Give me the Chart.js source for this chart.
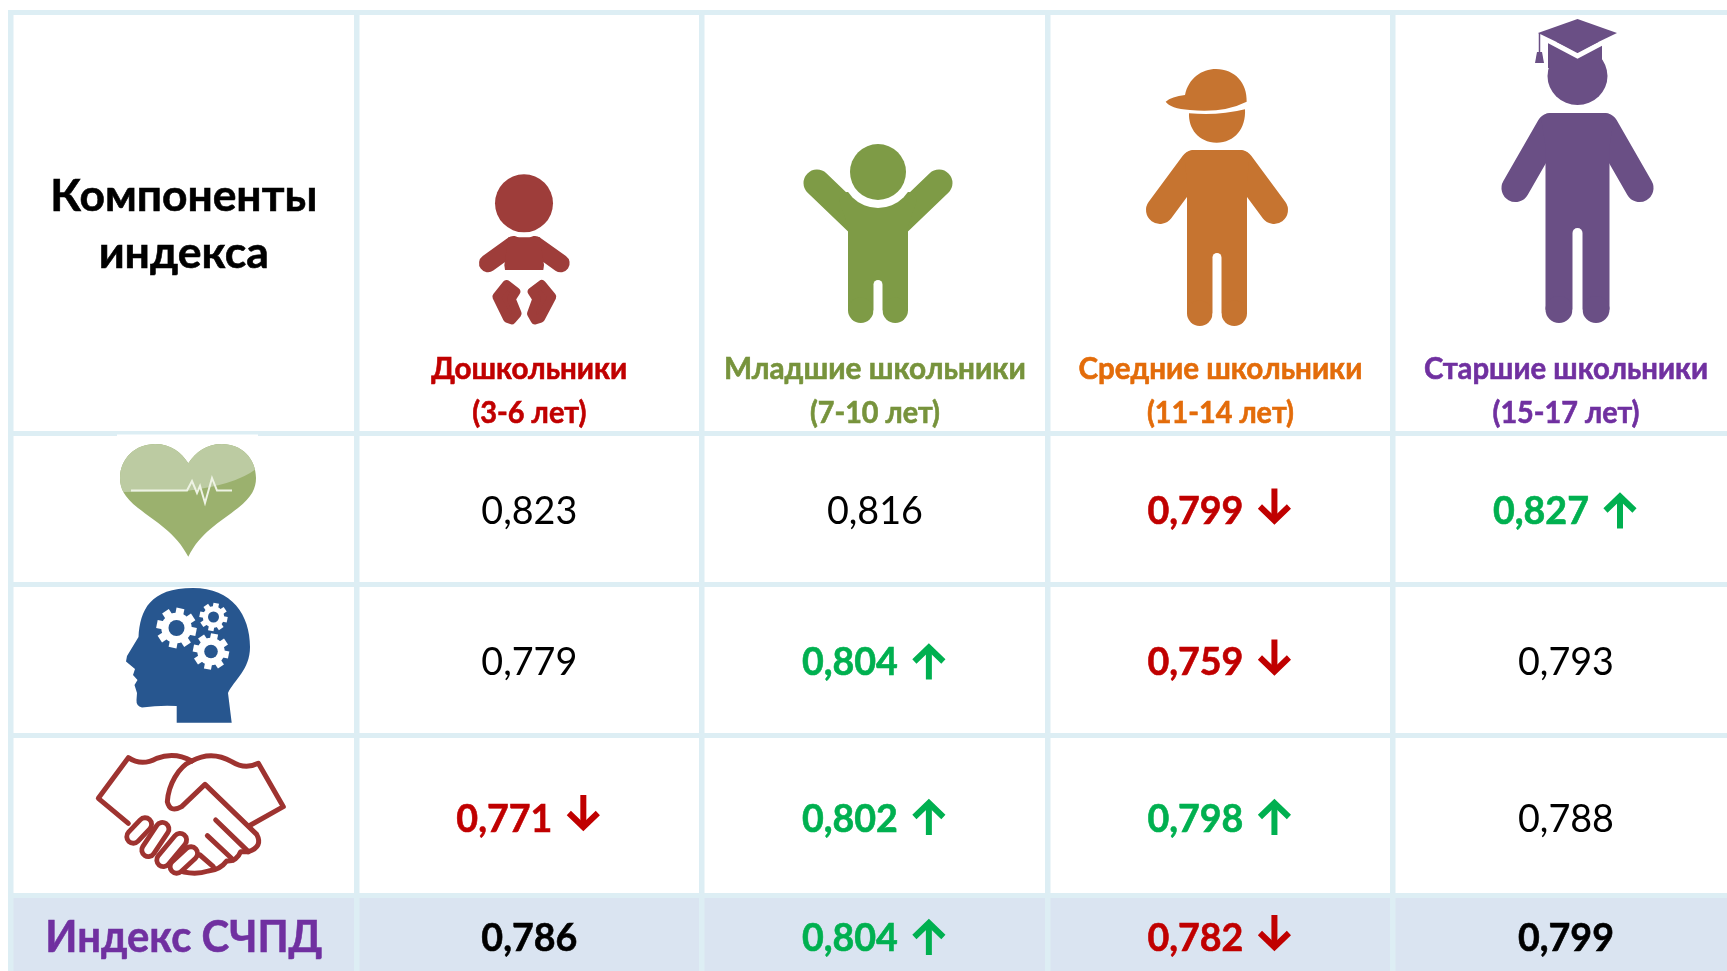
<!DOCTYPE html>
<html lang="ru">
<head>
<meta charset="utf-8">
<title>Индекс СЧПД</title>
<script src="https://cdn.jsdelivr.net/npm/chart.js@4"></script>
<style>
    html, body { margin: 0; padding: 0; background: #fff; overflow: hidden; }
    canvas { display: block; }
</style>
</head>
<body>
<canvas id="indexChart" width="1727" height="971"></canvas>
<script>
// Table content
const headerTitle = ['Компоненты', 'индекса'];
const groupNames = ['Дошкольники', 'Младшие школьники', 'Средние школьники', 'Старшие школьники'];
const groupAges = ['(3-6 лет)', '(7-10 лет)', '(11-14 лет)', '(15-17 лет)'];
const indexLabel = 'Индекс СЧПД';

const physicalValues = [0.823, 0.816, 0.799, 0.827];
const mentalValues = [0.779, 0.804, 0.759, 0.793];
const socialValues = [0.771, 0.802, 0.798, 0.788];
const indexValues = [0.786, 0.804, 0.782, 0.799];

// 1 = up arrow, -1 = down arrow, 0 = no change
const physicalTrend = [0, 0, -1, 1];
const mentalTrend = [0, 1, -1, 0];
const socialTrend = [-1, 1, 1, 0];
const indexTrend = [0, 1, -1, 0];

// Layout
const rowEdges = [12.5, 433, 584, 735, 895, 975];
const textNudge = [0, 3.3, 3.3, 4.5, 4];
const LINE_COLOR = '#DDEEF4';
const BAND_COLOR = '#DAE4F1';
const RED = '#C00000';
const GREEN = '#00B050';
const groupColors = ['#C00000', '#77933C', '#E36C0A', '#7030A0'];
const FONT = 'Lato, "Noto Sans", sans-serif';

// y axis with rows of different heights, value = row number
class TableRowScale extends Chart.LinearScale {
    static id = 'tableRows';
    static defaults = Chart.LinearScale.defaults;

    getPixelForValue(value) {
        const pos = value + 0.5;
        const k = Math.max(0, Math.min(rowEdges.length - 2, Math.floor(pos)));
        return rowEdges[k] + (pos - k) * (rowEdges[k + 1] - rowEdges[k]);
    }
}
Chart.register(TableRowScale);

function rowDataset(label, row, values, trend) {
    return {
        label,
        row,
        values,
        trend,
        bold: row === 4,
        data: values.map((v, i) => ({ x: i + 1, y: row })),
        pointRadius: 0
    };
}

function putText(ctx, text, x, y, size, color, bold, maxWidth) {
    ctx.font = `${bold ? 'bold ' : ''}${size}px ${FONT}`;
    ctx.fillStyle = color;
    ctx.textAlign = 'center';
    ctx.textBaseline = 'middle';
    ctx.fillText(text, x, y, maxWidth);
    if (bold) {
        // Lato bold is a bit lighter than the original face
        ctx.strokeStyle = color;
        ctx.lineWidth = 0.6;
        ctx.strokeText(text, x, y, maxWidth);
    }
}

function linePath(ctx, pts) {
    ctx.beginPath();
    pts.forEach((q, i) => (i ? ctx.lineTo(q[0], q[1]) : ctx.moveTo(q[0], q[1])));
}

function drawArrow(ctx, x, y, dir, color) {
    ctx.save();
    ctx.translate(x, y);
    ctx.scale(1, -dir);
    ctx.strokeStyle = color;
    ctx.lineWidth = 6;
    ctx.lineJoin = 'miter';
    linePath(ctx, [[0, -20], [0, 10]]);
    ctx.stroke();
    linePath(ctx, [[-14.5, -2], [0, 12], [14.5, -2]]);
    ctx.stroke();
    ctx.restore();
}

function drawPerson(ctx, p) {
    ctx.fillStyle = p.color;
    ctx.strokeStyle = p.color;
    ctx.lineCap = 'round';
    // arms
    if (p.arm) {
        ctx.lineWidth = p.arm;
        [-1, 1].forEach(s => {
            linePath(ctx, [
                [p.cx + s * (p.shoulder - p.arm / 2), p.top + p.arm / 2],
                [p.cx + s * (p.hand - p.arm / 2), p.handBottom - p.arm / 2]
            ]);
            ctx.stroke();
        });
    }
    // torso with rounded shoulders
    const legW = p.torso - p.gap;
    const sh = p.shoulder - 4;
    ctx.beginPath();
    ctx.moveTo(p.cx, p.top);
    ctx.arcTo(p.cx + sh, p.top, p.cx + p.torso, p.top + 34, 8);
    ctx.lineTo(p.cx + p.torso, p.top + 34);
    ctx.lineTo(p.cx + p.torso, p.bottom - legW / 2);
    ctx.lineTo(p.cx - p.torso, p.bottom - legW / 2);
    ctx.lineTo(p.cx - p.torso, p.top + 34);
    ctx.arcTo(p.cx - sh, p.top, p.cx, p.top, 8);
    ctx.closePath();
    ctx.fill();
    // feet and the gap between the legs
    [-1, 1].forEach(s => {
        ctx.beginPath();
        ctx.arc(p.cx + s * (p.torso + p.gap) / 2, p.bottom - legW / 2, legW / 2, 0, Math.PI * 2);
        ctx.fill();
    });
    ctx.strokeStyle = '#fff';
    ctx.lineWidth = p.gap * 2;
    linePath(ctx, [[p.cx, p.gapTop + p.gap], [p.cx, p.bottom + 4]]);
    ctx.stroke();
    ctx.lineCap = 'butt';
}

function drawBaby(ctx) {
    const c = '#9E3D3A';
    ctx.save();
    ctx.translate(470, 165);
    ctx.scale(1 / 3, 1 / 3);
    ctx.fillStyle = c;
    ctx.strokeStyle = c;
    ctx.beginPath();
    ctx.arc(162, 115, 87, 0, Math.PI * 2);
    ctx.fill();
    ctx.lineCap = 'round';
    ctx.lineWidth = 54;
    [[[130, 240], [54, 295]], [[195, 240], [272, 295]]].forEach(a => {
        linePath(ctx, a);
        ctx.stroke();
    });
    ctx.lineCap = 'butt';
    linePath(ctx, [[115, 217], [210, 217], [222, 300], [220, 315], [105, 315], [103, 300]]);
    ctx.closePath();
    ctx.fill();
    // feet
    ctx.lineJoin = 'round';
    ctx.lineWidth = 26;
    [[[110, 358], [138, 380], [124, 402], [142, 446], [125, 465], [112, 460], [80, 395]],
     [[215, 358], [186, 380], [200, 402], [184, 446], [195, 465], [212, 460], [246, 395]]].forEach(f => {
        linePath(ctx, f);
        ctx.closePath();
        ctx.fill();
        ctx.stroke();
    });
    ctx.restore();
}

function drawChild(ctx) {
    const c = '#7E9B46';
    ctx.strokeStyle = c;
    ctx.lineCap = 'round';
    ctx.lineWidth = 27;
    [[[817, 183], [866, 230]], [[939, 183], [890, 230]]].forEach(a => {
        linePath(ctx, a);
        ctx.stroke();
    });
    drawPerson(ctx, { cx: 878, top: 192, shoulder: 46, torso: 30, bottom: 323, gap: 4.5, gapTop: 280, color: c });
    ctx.fillStyle = '#fff';
    ctx.beginPath();
    ctx.arc(878, 172, 36, 0, Math.PI * 2);
    ctx.fill();
    ctx.fillStyle = c;
    ctx.beginPath();
    ctx.arc(878, 172, 28, 0, Math.PI * 2);
    ctx.fill();
}

function drawTeen(ctx) {
    const c = '#C67430';
    drawPerson(ctx, { cx: 1217, top: 150, shoulder: 37, torso: 30, hand: 71, arm: 28, handBottom: 224, bottom: 326, gap: 4.5, gapTop: 253, color: c });
    ctx.save();
    ctx.translate(1140, 60);
    ctx.scale(1 / 3, 1 / 3);
    ctx.fillStyle = c;
    // face under the cap
    ctx.beginPath();
    ctx.moveTo(147, 160);
    ctx.quadraticCurveTo(235, 168, 315, 148);
    ctx.bezierCurveTo(318, 205, 285, 248, 230, 248);
    ctx.bezierCurveTo(175, 248, 145, 205, 147, 160);
    ctx.fill();
    // cap with visor
    ctx.beginPath();
    ctx.moveTo(77, 125);
    ctx.quadraticCurveTo(95, 110, 135, 105);
    ctx.bezierCurveTo(145, 55, 185, 27, 228, 27);
    ctx.bezierCurveTo(285, 27, 322, 70, 320, 125);
    ctx.quadraticCurveTo(250, 160, 150, 150);
    ctx.quadraticCurveTo(90, 145, 77, 125);
    ctx.fill();
    ctx.restore();
}

function drawSenior(ctx) {
    const c = '#6A4F85';
    drawPerson(ctx, { cx: 1577.5, top: 113, shoulder: 41, torso: 32, hand: 76, arm: 28, handBottom: 202, bottom: 323, gap: 5, gapTop: 228, color: c });
    ctx.fillStyle = c;
    ctx.beginPath();
    ctx.ellipse(1577.5, 76, 30, 29, 0, 0, Math.PI * 2);
    ctx.fill();
    ctx.fillRect(1548, 42, 54, 26);
    // white edge of the mortarboard
    ctx.strokeStyle = '#fff';
    ctx.lineWidth = 5;
    linePath(ctx, [[1538, 35], [1577.5, 56], [1617, 35]]);
    ctx.stroke();
    linePath(ctx, [[1577.5, 19], [1617, 33], [1577.5, 52], [1538, 33]]);
    ctx.closePath();
    ctx.fill();
    // tassel
    ctx.strokeStyle = c;
    ctx.lineWidth = 1.5;
    linePath(ctx, [[1539.5, 33], [1539.5, 54]]);
    ctx.stroke();
    linePath(ctx, [[1537, 52], [1542, 52], [1544, 63], [1535, 63]]);
    ctx.closePath();
    ctx.fill();
}

function drawHeart(ctx) {
    // white edge of the pasted picture over the grid line
    ctx.fillStyle = '#fff';
    ctx.fillRect(117, 434.5, 141, 3);
    const heart = new Path2D();
    heart.moveTo(188.3, 556.7);
    heart.bezierCurveTo(176, 533, 156, 522, 138, 508);
    heart.bezierCurveTo(124, 497, 120, 488, 120, 478);
    heart.bezierCurveTo(120, 458, 136, 444, 155, 444);
    heart.bezierCurveTo(171, 444, 181, 452, 188.3, 463.3);
    heart.bezierCurveTo(196, 452, 206, 444, 222, 444);
    heart.bezierCurveTo(241, 444, 256, 458, 256, 478);
    heart.bezierCurveTo(256, 488, 252, 497, 238, 508);
    heart.bezierCurveTo(220, 522, 200, 533, 188.3, 556.7);
    heart.closePath();
    ctx.fillStyle = '#9BB16E';
    ctx.fill(heart);
    ctx.save();
    ctx.clip(heart);
    ctx.fillStyle = '#BCCBA2';
    ctx.beginPath();
    ctx.moveTo(110, 490);
    ctx.lineTo(122, 492);
    ctx.lineTo(186, 491);
    ctx.quadraticCurveTo(235, 485, 256, 469);
    ctx.lineTo(262, 436);
    ctx.lineTo(110, 436);
    ctx.closePath();
    ctx.fill();
    ctx.restore();
    ctx.strokeStyle = '#EEF3E4';
    ctx.lineWidth = 2;
    linePath(ctx, [[131, 490.5], [187, 490.5], [192, 481], [197, 493], [200, 486], [205, 503], [212, 478], [217, 490.5], [232, 490.5]]);
    ctx.stroke();
}

function drawGear(ctx, x, y, r, hole, blue) {
    ctx.fillStyle = '#fff';
    ctx.beginPath();
    ctx.arc(x, y, r * 0.76, 0, Math.PI * 2);
    ctx.fill();
    for (let i = 0; i < 8; i++) {
        ctx.save();
        ctx.translate(x, y);
        ctx.rotate(i * Math.PI / 4 + 0.2);
        ctx.fillRect(-r * 0.2, -r, r * 0.4, r * 0.5);
        ctx.restore();
    }
    ctx.fillStyle = blue;
    ctx.beginPath();
    ctx.arc(x, y, hole, 0, Math.PI * 2);
    ctx.fill();
}

function drawBrain(ctx) {
    const blue = '#27568F';
    ctx.fillStyle = blue;
    ctx.beginPath();
    ctx.moveTo(176.7, 722.7);
    ctx.lineTo(176.7, 706);
    ctx.quadraticCurveTo(160, 705, 142, 707.5);
    ctx.quadraticCurveTo(136, 706, 136.5, 700);
    ctx.lineTo(137, 693);
    ctx.lineTo(134.5, 685);
    ctx.lineTo(137.5, 680);
    ctx.lineTo(133, 675);
    ctx.lineTo(135, 669);
    ctx.lineTo(126, 661.5);
    ctx.lineTo(127, 656);
    ctx.lineTo(138.5, 637);
    ctx.bezierCurveTo(140, 610, 150, 588, 193, 588);
    ctx.bezierCurveTo(232, 588, 250, 615, 250, 647);
    ctx.bezierCurveTo(250, 670, 234, 680, 228, 693);
    ctx.lineTo(231.7, 722.7);
    ctx.closePath();
    ctx.fill();
    drawGear(ctx, 176.5, 628, 20, 8, blue);
    drawGear(ctx, 213.5, 617, 14, 5.5, blue);
    drawGear(ctx, 211, 651.5, 18, 6.8, blue);
}

function drawHands(ctx) {
    const c = '#9E3330';
    ctx.save();
    ctx.translate(85, 745);
    ctx.scale(1 / 3, 1 / 3);
    ctx.strokeStyle = c;
    ctx.lineWidth = 15;
    ctx.lineJoin = 'round';
    ctx.lineCap = 'round';
    // left cuff and top of the left hand
    ctx.beginPath();
    ctx.moveTo(130, 235);
    ctx.lineTo(40, 160);
    ctx.lineTo(130, 38);
    ctx.quadraticCurveTo(170, 65, 215, 40);
    ctx.quadraticCurveTo(270, 20, 320, 48);
    ctx.stroke();
    // right cuff
    ctx.beginPath();
    ctx.moveTo(320, 48);
    ctx.quadraticCurveTo(380, 15, 440, 50);
    ctx.quadraticCurveTo(480, 75, 520, 55);
    ctx.lineTo(595, 185);
    ctx.lineTo(497, 240);
    ctx.stroke();
    // thumb and right hand
    ctx.beginPath();
    ctx.moveTo(320, 48);
    ctx.bezierCurveTo(280, 65, 250, 120, 247, 170);
    ctx.quadraticCurveTo(255, 205, 290, 185);
    ctx.lineTo(360, 118);
    ctx.lineTo(515, 268);
    ctx.quadraticCurveTo(535, 305, 490, 320);
    ctx.lineTo(467, 320);
    ctx.quadraticCurveTo(455, 350, 425, 348);
    ctx.quadraticCurveTo(405, 375, 370, 378);
    ctx.quadraticCurveTo(320, 395, 265, 370);
    ctx.stroke();
    // fingers of the right hand
    [[[392, 225], [490, 320]], [[367, 272], [445, 345]], [[345, 330], [385, 365]]].forEach(f => {
        linePath(ctx, f);
        ctx.stroke();
    });
    // fingers of the left hand
    [[[180, 238], [145, 275]], [[232, 252], [190, 315]], [[285, 285], [235, 345]], [[318, 325], [275, 365]]].forEach(f => {
        linePath(ctx, f);
        ctx.strokeStyle = c;
        ctx.lineWidth = 54;
        ctx.stroke();
        ctx.strokeStyle = '#fff';
        ctx.lineWidth = 25;
        ctx.stroke();
    });
    ctx.restore();
}

// fills the bottom row under the grid lines
const bandPlugin = {
    id: 'band',
    beforeDraw(chart) {
        const { ctx, chartArea, scales } = chart;
        const top = scales.y.getPixelForValue(3.5);
        ctx.fillStyle = BAND_COLOR;
        ctx.fillRect(chartArea.left, top, chartArea.right - chartArea.left, chartArea.bottom - top);
    }
};

// texts and pictures of the table, placed from the chart's scales
const tablePlugin = {
    id: 'table',
    afterDatasetsDraw(chart) {
        const { ctx, scales } = chart;
        const headerBottom = scales.y.getPixelForValue(0.5);
        const firstX = scales.x.getPixelForValue(0);

        putText(ctx, headerTitle[0], firstX, 197, 44.5, '#000', true, 267);
        putText(ctx, headerTitle[1], firstX, 254, 44.5, '#000', true, 172);
        groupNames.forEach((name, i) => {
            const x = scales.x.getPixelForValue(i + 1);
            putText(ctx, name, x, headerBottom - 63.2, 30, groupColors[i], true, [196, 302, 284, 284][i]);
            putText(ctx, groupAges[i], x, headerBottom - 19.2, 30, groupColors[i], true, [114, 130, 147, 147][i]);
        });
        putText(ctx, indexLabel, firstX, scales.y.getPixelForValue(4) + 3, 44.5, '#7030A0', true, 277);

        chart.data.datasets.forEach((ds, d) => {
            chart.getDatasetMeta(d).data.forEach((pt, i) => {
                const text = ds.values[i].toFixed(3).replace('.', ',');
                const trend = ds.trend[i];
                const textY = pt.y + textNudge[ds.row];
                if (trend === 0) {
                    putText(ctx, text, pt.x, textY, 38, '#000', ds.bold, 96);
                    return;
                }
                const color = trend > 0 ? GREEN : RED;
                putText(ctx, text, pt.x - 25, textY, 38, color, true, 96);
                drawArrow(ctx, pt.x + 54, pt.y, trend, color);
            });
        });

        drawBaby(ctx);
        drawChild(ctx);
        drawTeen(ctx);
        drawSenior(ctx);
        drawHeart(ctx);
        drawBrain(ctx);
        drawHands(ctx);
    }
};

const edgeTicks = values => axis => {
    axis.ticks = values.map(value => ({ value }));
};

new Chart(document.getElementById('indexChart'), {
    type: 'scatter',
    data: {
        datasets: [
            rowDataset('Физическое здоровье', 1, physicalValues, physicalTrend),
            rowDataset('Психическое здоровье', 2, mentalValues, mentalTrend),
            rowDataset('Социальное здоровье', 3, socialValues, socialTrend),
            rowDataset(indexLabel, 4, indexValues, indexTrend)
        ]
    },
    options: {
        responsive: false,
        animation: false,
        events: [],
        layout: { padding: { left: 8, top: 10, right: 0, bottom: 0 } },
        plugins: {
            legend: { display: false },
            tooltip: { enabled: false }
        },
        scales: {
            x: {
                type: 'linear',
                min: -0.5087,
                max: 4.466,
                ticks: { display: false },
                border: { display: false },
                grid: { color: LINE_COLOR, lineWidth: 5.5, drawTicks: false },
                afterBuildTicks: edgeTicks([-0.5, 0.5, 1.5, 2.5, 3.5])
            },
            y: {
                type: 'tableRows',
                min: -0.5,
                max: 4.5,
                ticks: { display: false },
                border: { display: false },
                grid: { color: LINE_COLOR, lineWidth: 5, drawTicks: false },
                afterBuildTicks: edgeTicks([-0.5, 0.5, 1.5, 2.5, 3.5])
            }
        }
    },
    plugins: [bandPlugin, tablePlugin]
});
</script>
</body>
</html>
